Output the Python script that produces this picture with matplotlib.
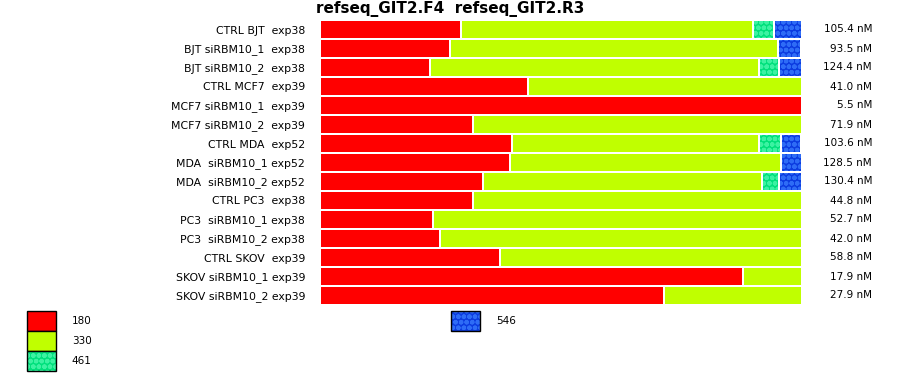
import matplotlib.pyplot as plt
import numpy as np
from matplotlib.patches import Patch

plt.rcParams['font.family'] = 'DejaVu Sans'
plt.rcParams['hatch.linewidth'] = 1.6

# samples (top to bottom)
samples = [
    "CTRL BJT  exp38",
    "BJT siRBM10_1  exp38",
    "BJT siRBM10_2  exp38",
    "CTRL MCF7  exp39",
    "MCF7 siRBM10_1  exp39",
    "MCF7 siRBM10_2  exp39",
    "CTRL MDA  exp52",
    "MDA  siRBM10_1 exp52",
    "MDA  siRBM10_2 exp52",
    "CTRL PC3  exp38",
    "PC3  siRBM10_1 exp38",
    "PC3  siRBM10_2 exp38",
    "CTRL SKOV  exp39",
    "SKOV siRBM10_1 exp39",
    "SKOV siRBM10_2 exp39",
]

conc = ["105.4 nM", "93.5 nM", "124.4 nM", "41.0 nM", "5.5 nM", "71.9 nM",
        "103.6 nM", "128.5 nM", "130.4 nM", "44.8 nM", "52.7 nM", "42.0 nM",
        "58.8 nM", "17.9 nM", "27.9 nM"]

# percent of each product size per sample
p180 = [29.2, 26.9, 22.7, 43.1, 100.0, 31.7, 39.8, 39.4, 33.8, 31.7, 23.3, 24.8, 37.3, 87.9, 71.5]
p330 = [60.8, 68.3, 68.5, 56.9, 0.0, 68.3, 51.4, 56.4, 58.1, 68.3, 76.7, 75.2, 62.7, 12.1, 28.5]
p461 = [4.4, 0.0, 4.2, 0.0, 0.0, 0.0, 4.6, 0.0, 3.5, 0.0, 0.0, 0.0, 0.0, 0.0, 0.0]
p546 = [5.6, 4.8, 4.6, 0.0, 0.0, 0.0, 4.2, 4.2, 4.6, 0.0, 0.0, 0.0, 0.0, 0.0, 0.0]

sizes = ["180", "330", "461", "546"]
series = [p180, p330, p461, p546]
colors = ["#ff0000", "#c0ff00", "#00e07c", "#0c3ce0"]
dotcolors = [None, None, "#3cf2a2", "#2e6cf6"]
hatches = [None, None, "ooo", "ooo"]

fig = plt.figure(figsize=(9, 3.75), dpi=100)
ax = fig.add_axes([321/900, 1 - 305/375, 480/900, 285/375])

y = np.arange(len(samples))
gap = 100 * 2 / 480  # white gap between segments

start = np.zeros(len(samples))
for vals, col, dcol, h in zip(series, colors, dotcolors, hatches):
    v = np.array(vals)
    end = start + v
    left = np.where(start > 0, start + gap / 2, start)
    right = np.where(end < 100, end - gap / 2, end)
    w = np.where(v > 0, right - left, 0)
    ax.barh(y, w, left=left, height=0.895, color=col,
            edgecolor=dcol if dcol else col, linewidth=0, hatch=h)
    start = end

ax.set_xlim(0, 100)
ax.set_ylim(14.5, -0.5)
ax.set_yticks(y)
ax.set_yticklabels(samples, fontsize=7.8)
ax.tick_params(axis='y', length=0, pad=11.5)
ax.set_xticks([])
for s in ax.spines.values():
    s.set_visible(False)

for yi, c in zip(y, conc):
    ax.text(1.148, yi, c, transform=ax.get_yaxis_transform(),
            ha='right', va='center', fontsize=7.5)

fig.text(0.5, 1 - 1/375, "refseq_GIT2.F4  refseq_GIT2.R3", ha='center', va='top',
         fontsize=11, fontweight='bold')

# legend
def handle(i):
    base = Patch(facecolor=colors[i], edgecolor=dotcolors[i] or colors[i],
                 linewidth=0, hatch=hatches[i])
    frame = Patch(facecolor='none', edgecolor='black', linewidth=1)
    return (base, frame)

common = dict(frameon=False, fontsize=7.5, handlelength=2.8, handleheight=2.58,
              labelspacing=0, handletextpad=1.5, borderpad=0, borderaxespad=0,
              loc='upper left', bbox_transform=fig.transFigure)
leg1 = fig.legend([handle(0), handle(1), handle(2)], sizes[:3],
                  bbox_to_anchor=(27/900, 1 - 311/375), **common)
leg2 = fig.legend([handle(3)], sizes[3:],
                  bbox_to_anchor=(451/900, 1 - 311/375), **common)

fig.savefig("out.png", dpi=100)
